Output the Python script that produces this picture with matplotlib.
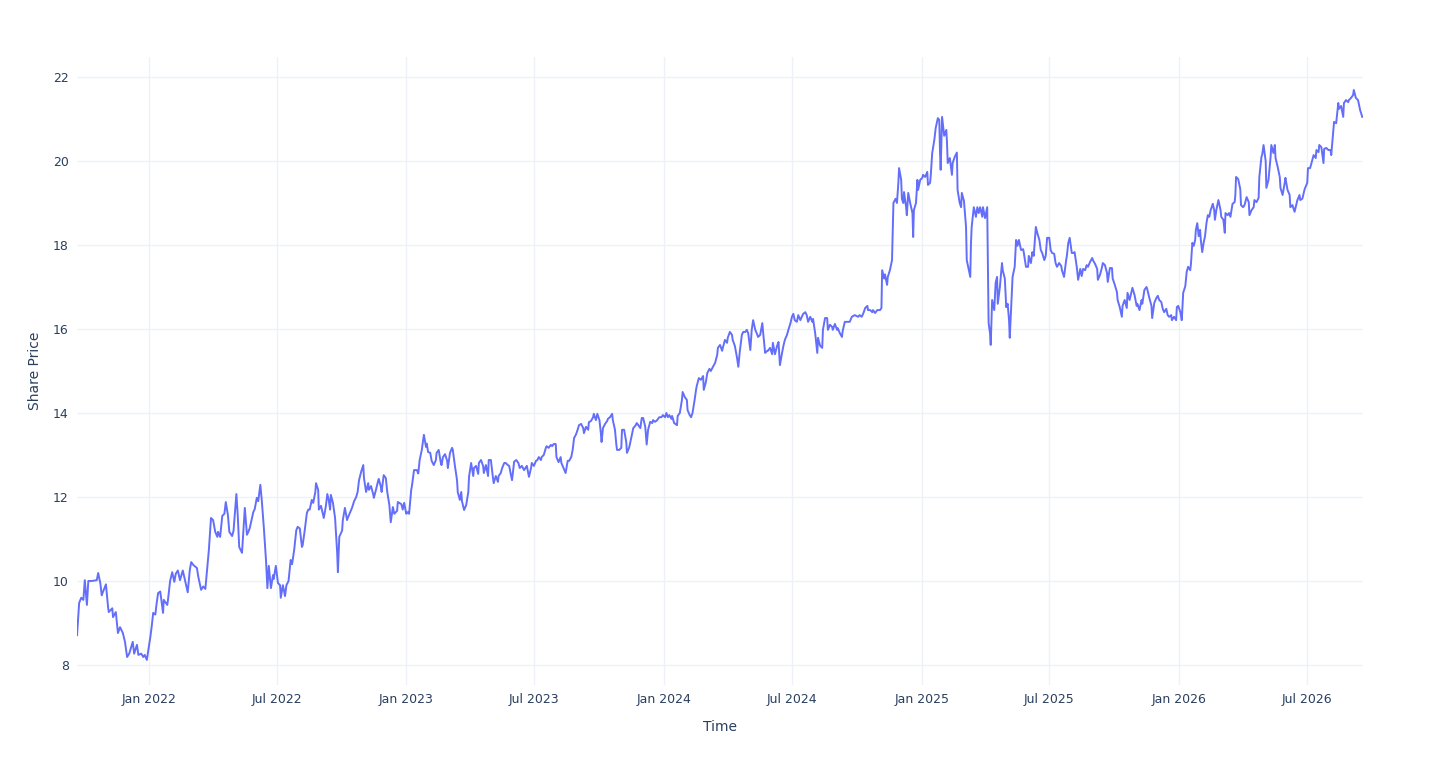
import matplotlib

matplotlib.use("Agg")
import matplotlib.dates as mdates
import pandas as pd
from matplotlib import pyplot as plt

start_date = "2021-09-21"

# days since start_date
days = [
    0, 3, 6, 9, 11, 14, 16, 21, 28, 30, 33, 35, 37, 41, 44, 45, 50, 51, 55, 58,
    61, 65, 68, 71, 74, 79, 81, 85, 87, 91, 94, 96, 99, 104, 106, 108, 111, 113, 115, 118,
    122, 123, 128, 129, 132, 135, 138, 140, 143, 146, 150, 155, 157, 160,
    162, 165, 170, 172, 176, 179, 182, 184, 187, 190, 193, 196, 199, 200, 203, 206,
    209, 211, 214, 216, 220, 222, 226, 228, 230, 234, 236, 238, 241, 243, 245, 250,
    252, 255, 257, 260, 261, 262, 265, 268, 270, 272, 275, 278, 279, 282, 285, 288,
    289, 292, 295, 297, 300, 303, 305, 308, 311, 313,
    316, 319, 320, 323, 326, 328, 330, 333, 335, 338, 339, 342, 343, 346, 348, 350,
    353, 355, 357, 359, 360, 363, 366, 369, 370, 372, 376, 377, 380, 383, 384, 387,
    390, 393, 396, 398, 400, 403, 406, 407, 410, 413, 414, 417, 420, 421, 424, 427,
    428, 431, 432, 435, 438, 440, 443, 445, 448, 450, 454, 455, 460, 462, 464, 467,
    469, 471, 474, 475, 478, 482, 484, 486, 489, 492, 495, 496, 498, 501, 503, 506,
    509, 510, 513, 516, 517, 519, 522, 525, 526, 529, 532, 533, 536, 539, 540, 543,
    545, 546, 549, 552, 555, 556, 559, 562, 563, 566, 569, 570, 573, 576, 577, 580,
    583, 584, 587, 590, 591, 594, 597, 598, 601, 603, 606, 608, 611, 613, 615, 617,
    620, 623, 626, 628,
    631, 634, 638, 641, 644, 645, 648, 651, 653, 655, 658, 659, 662, 665, 666, 669,
    672, 674, 676, 679, 680, 683, 686, 687, 690, 693, 696, 698, 701, 703, 705, 708,
    710, 712, 715, 718, 719, 722, 725, 726, 729, 732, 733, 736, 738, 741, 743, 744,
    746, 749, 752, 753, 756, 759, 760, 763, 765, 766, 769, 772, 773, 776, 779, 780,
    783, 784,
    789, 792, 794, 799, 801, 803, 806, 808, 810, 813, 816, 817, 820, 823, 824, 826,
    829, 831, 834, 836, 838, 840, 843, 844, 847, 851, 852, 855, 858, 859, 862, 865,
    866, 869, 871, 873, 876, 878, 879, 882, 885, 888, 889, 892, 894, 897, 899, 902,
    905, 908, 909, 912, 915, 916, 919, 922, 923, 926, 929, 930, 933, 936, 938,
    940, 943, 945, 948, 950, 952, 955, 957, 959, 962, 965, 966, 969, 972, 973, 976,
    979, 980, 983, 986, 987, 990, 993, 995, 997, 1000, 1002, 1004, 1007, 1009, 1012, 1014,
    1016, 1018, 1021, 1023, 1026, 1028, 1030, 1033, 1035, 1037, 1040, 1043, 1044, 1047, 1050, 1051,
    1054, 1057, 1058, 1061, 1064, 1065, 1068, 1071, 1072, 1075, 1078, 1079, 1082, 1085, 1086, 1089,
    1092, 1096,
    1099, 1103, 1108, 1110, 1113, 1115, 1118, 1121, 1122, 1125, 1128, 1129, 1132, 1135, 1136, 1139,
    1141, 1142, 1145, 1146, 1149, 1150, 1153, 1156, 1157, 1158, 1161, 1163, 1165, 1166, 1169, 1170,
    1172, 1173, 1176, 1177, 1179, 1182, 1185, 1186, 1187, 1190, 1192, 1193, 1196, 1199, 1200, 1203,
    1206, 1207, 1210, 1211, 1213, 1216, 1218, 1221, 1223, 1224, 1225, 1227, 1230, 1233, 1234, 1235,
    1238, 1241, 1242, 1245, 1248, 1249, 1252, 1254,
    1255, 1258, 1261, 1262, 1265, 1267, 1268, 1269, 1271, 1272, 1275, 1277, 1279, 1281, 1284, 1285,
    1288, 1291, 1292, 1293, 1295, 1296, 1298, 1301, 1303, 1305, 1306, 1309, 1312, 1313, 1316, 1318,
    1320, 1322, 1323, 1326, 1327, 1330, 1332, 1334, 1336, 1339, 1342, 1343, 1346, 1349, 1350, 1353,
    1355, 1357, 1360, 1362, 1365, 1367, 1369, 1372, 1374, 1376, 1379, 1381, 1383, 1386, 1388, 1390,
    1393, 1396, 1397, 1400, 1403, 1404,
    1406, 1408, 1411, 1413, 1415, 1418, 1420, 1423, 1425, 1427, 1430, 1432, 1434, 1437, 1440, 1441,
    1444, 1447, 1448, 1451, 1454, 1455, 1458, 1461, 1462, 1465, 1468, 1469, 1472, 1475, 1476, 1479,
    1482, 1483, 1486, 1489, 1490, 1493, 1496, 1497, 1500, 1503, 1504, 1507, 1510, 1511, 1514, 1517,
    1518, 1521, 1524, 1525, 1528, 1531, 1533, 1535, 1538, 1540, 1542, 1545, 1547, 1549, 1552, 1553,
    1556, 1559, 1560, 1562, 1565, 1567, 1569, 1572, 1574, 1576, 1579, 1580, 1582, 1584, 1586, 1587,
    1589, 1591, 1593, 1594, 1596, 1598, 1600, 1602, 1604, 1606, 1608, 1611, 1613, 1614, 1616, 1619,
    1622, 1623, 1626, 1628, 1629, 1632, 1634, 1636, 1639, 1642, 1643, 1644, 1647, 1650, 1651, 1654,
    1656, 1659, 1662, 1663, 1666, 1669, 1670, 1673, 1676, 1677, 1680, 1681, 1683, 1686, 1687, 1690,
    1693, 1694, 1697, 1699, 1700, 1703, 1706, 1707, 1710, 1713, 1714, 1717, 1720, 1721, 1724, 1727,
    1728, 1731, 1734, 1735, 1738, 1741, 1742, 1745, 1746, 1749, 1751, 1754, 1757, 1758, 1761, 1762,
    1765, 1768, 1769, 1772, 1775, 1778, 1779, 1782, 1783, 1786, 1789, 1790, 1793, 1796, 1797, 1800,
    1803, 1804, 1807, 1810, 1811, 1814, 1817, 1820, 1823,
]

price = [
    8.71, 9.48, 9.6, 9.55, 10.02, 9.43, 10.0, 10.0, 10.02, 10.19, 9.95, 9.66, 9.75, 9.92, 9.38, 9.26, 9.35, 9.14, 9.26, 8.76,
    8.9, 8.76, 8.55, 8.19, 8.27, 8.55, 8.27, 8.48, 8.24, 8.27, 8.19, 8.24, 8.12, 8.67, 8.93, 9.24, 9.2, 9.48, 9.71, 9.75,
    9.24, 9.55, 9.43, 9.55, 10.0, 10.21, 9.98, 10.17, 10.25, 10.02, 10.25, 9.87, 9.73, 10.27,
    10.45, 10.38, 10.31, 10.1, 9.79, 9.87, 9.81, 10.19, 10.74, 11.5, 11.45, 11.17, 11.05, 11.17, 11.05, 11.55,
    11.6, 11.88, 11.57, 11.17, 11.07, 11.2, 12.07, 11.55, 10.81, 10.67, 11.2, 11.74, 11.1, 11.17, 11.26, 11.64,
    11.71, 11.98, 11.9, 12.29, 12.1, 11.93, 11.26, 10.5, 9.83, 10.36, 9.83, 10.14, 10.05, 10.36, 9.95, 9.9,
    9.6, 9.9, 9.64, 9.9, 10.0, 10.5, 10.4, 10.74, 11.21, 11.29,
    11.25, 10.81, 10.85, 11.21, 11.62, 11.7, 11.7, 11.93, 11.86, 12.12, 12.33, 12.17, 11.7, 11.79, 11.64, 11.5,
    11.79, 12.07, 11.93, 11.7, 12.05, 11.86, 11.5, 10.67, 10.21, 11.05, 11.2, 11.45, 11.74, 11.45, 11.5, 11.62,
    11.74, 11.9, 12.0, 12.12, 12.4, 12.6, 12.76, 12.45, 12.12, 12.33, 12.17, 12.26, 12.07, 11.98, 12.17, 12.38,
    12.43, 12.24, 12.12, 12.52, 12.45, 12.12, 11.81, 11.4, 11.76, 11.6, 11.67, 11.88, 11.83, 11.7, 11.86, 11.6,
    11.64, 11.6, 12.17, 12.26, 12.64, 12.64, 12.56, 12.88, 13.12, 13.48, 13.19, 13.27, 13.07, 13.05, 12.86, 12.76,
    12.88, 13.05, 13.12, 12.81, 12.76, 12.95, 13.02, 12.86, 12.69, 13.05, 13.17, 13.12, 12.74, 12.4, 12.12, 11.93,
    12.12, 11.9, 11.69, 11.81, 12.12, 12.48, 12.81, 12.5, 12.69, 12.74, 12.55, 12.81, 12.88, 12.74, 12.57, 12.76,
    12.5, 12.88, 12.88, 12.45, 12.33, 12.5, 12.36, 12.5, 12.57, 12.69, 12.81, 12.81, 12.76, 12.74, 12.56, 12.4,
    12.84, 12.88, 12.81, 12.69,
    12.74, 12.64, 12.74, 12.48, 12.69, 12.81, 12.74, 12.86, 12.88, 12.95, 12.88, 12.95, 13.0, 13.17, 13.21, 13.17,
    13.24, 13.21, 13.26, 13.26, 12.95, 12.83, 12.95, 12.81, 12.69, 12.57, 12.86, 12.86, 12.95, 13.12, 13.4, 13.5,
    13.6, 13.71, 13.74, 13.64, 13.52, 13.67, 13.6, 13.78, 13.81, 13.9, 13.98, 13.83, 13.98, 13.83, 13.52, 13.31,
    13.64, 13.74, 13.81, 13.86, 13.9, 13.98, 13.83, 13.6, 13.24, 13.12, 13.12, 13.17, 13.6, 13.6, 13.31, 13.05,
    13.17, 13.24,
    13.64, 13.7, 13.76, 13.64, 13.88, 13.88, 13.67, 13.25, 13.6, 13.79, 13.76, 13.83, 13.79, 13.83, 13.86, 13.9,
    13.9, 13.95, 13.9, 14.0, 13.9, 13.95, 13.86, 13.93, 13.76, 13.71, 13.93, 14.0, 14.31, 14.5, 14.38, 14.31,
    14.07, 13.95, 13.9, 14.0, 14.31, 14.55, 14.64, 14.83, 14.79, 14.88, 14.55, 14.74, 14.95, 15.05, 15.0, 15.1,
    15.19, 15.38, 15.55, 15.62, 15.48, 15.55, 15.74, 15.67, 15.79, 15.93, 15.86, 15.74, 15.6, 15.33, 15.1,
    15.45, 15.86, 15.93, 15.93, 15.98, 15.9, 15.5, 15.98, 16.21, 15.98, 15.86, 15.81, 15.86, 16.14, 15.95, 15.43,
    15.48, 15.48, 15.55, 15.4, 15.67, 15.4, 15.6, 15.69, 15.14, 15.43, 15.6, 15.74, 15.86, 15.98, 16.14, 16.29,
    16.36, 16.21, 16.17, 16.33, 16.21, 16.29, 16.36, 16.4, 16.33, 16.17, 16.29, 16.17, 16.24, 15.9, 15.43, 15.79,
    15.6, 15.55, 15.98, 16.26, 16.26, 15.98, 16.1, 16.05, 15.98, 16.12, 15.98, 16.02, 15.9, 15.81, 15.95, 16.17,
    16.17, 16.17,
    16.29, 16.33, 16.29, 16.33, 16.29, 16.36, 16.5, 16.55, 16.45, 16.45, 16.4, 16.45, 16.38, 16.45, 16.45, 16.45,
    16.5, 17.4, 17.2, 17.3, 17.05, 17.24, 17.4, 17.64, 18.29, 19.0, 19.1, 19.0, 19.48, 19.83, 19.55, 19.1,
    19.0, 19.26, 18.9, 18.71, 19.24, 18.98, 18.76, 18.19, 18.83, 19.0, 19.55, 19.31, 19.55, 19.6, 19.67, 19.62,
    19.74, 19.43, 19.48, 19.67, 20.19, 20.5, 20.79, 21.02, 20.98, 20.26, 19.79, 21.05, 20.6, 20.74, 20.43, 19.95,
    20.07, 19.67, 19.95, 20.1, 20.2, 19.31, 19.0, 18.9,
    19.24, 19.05, 18.43, 17.64, 17.4, 17.24, 18.05, 18.43, 18.76, 18.9, 18.67, 18.9, 18.76, 18.9, 18.67, 18.9,
    18.64, 18.9, 17.6, 16.14, 15.9, 15.62, 16.69, 16.45, 17.1, 17.24, 16.6, 17.0, 17.57, 17.4, 17.2, 16.52,
    16.6, 16.21, 15.79, 16.86, 17.24, 17.48, 18.12, 17.98, 18.12, 17.88, 17.9, 17.81, 17.48, 17.48, 17.74, 17.57,
    17.83, 17.74, 18.43, 18.29, 18.12, 17.88, 17.81, 17.64, 17.74, 18.17, 18.17, 17.88, 17.81, 17.79, 17.57, 17.48,
    17.57, 17.5, 17.4, 17.24, 17.64, 17.74,
    18.05, 18.17, 17.81, 17.81, 17.83, 17.48, 17.17, 17.43, 17.26, 17.43, 17.4, 17.52, 17.48, 17.6, 17.69, 17.64,
    17.55, 17.43, 17.17, 17.29, 17.48, 17.57, 17.52, 17.33, 17.12, 17.45, 17.45, 17.2, 17.05, 16.88, 16.69, 16.52,
    16.29, 16.55, 16.69, 16.5, 16.86, 16.69, 16.9, 16.98, 16.81, 16.55, 16.6, 16.45, 16.69, 16.6, 16.93, 17.0,
    16.95, 16.74, 16.55, 16.26, 16.62, 16.74, 16.79, 16.69, 16.64, 16.48, 16.4, 16.48, 16.33, 16.29, 16.33, 16.21,
    16.29, 16.21, 16.52, 16.55, 16.4, 16.21, 16.86, 17.02, 17.36, 17.48, 17.4, 17.55, 18.05, 17.98, 18.12, 18.36,
    18.52, 18.21, 18.36, 18.12, 17.83, 18.05, 18.21, 18.52, 18.71, 18.67, 18.83, 18.98, 18.83, 18.6, 18.83, 19.07,
    18.83, 18.67, 18.6, 18.29, 18.76, 18.71, 18.76, 18.67, 18.98, 19.02, 19.19, 19.62, 19.57, 19.33, 18.95, 18.9,
    18.95, 19.14, 19.02, 18.71, 18.83, 18.9, 19.07, 19.02, 19.12, 19.62, 20.1, 20.14, 20.38, 20.0, 19.36, 19.55,
    20.1, 20.38, 20.19, 20.38, 20.07, 19.86, 19.62, 19.36, 19.19, 19.48, 19.6, 19.31, 19.19, 18.9, 18.95, 18.79,
    18.86, 19.07, 19.19, 19.07, 19.1, 19.31, 19.36, 19.48, 19.83, 19.83, 19.95, 20.14, 20.07, 20.26, 20.21, 20.38,
    20.33, 19.95, 20.29, 20.31, 20.26, 20.26, 20.14, 20.74, 20.93, 20.9, 21.38, 21.24, 21.31, 21.05, 21.38, 21.45,
    21.4, 21.45, 21.5, 21.57, 21.69, 21.5, 21.45, 21.21, 21.05,
]

y_ticks = [8, 10, 12, 14, 16, 18, 20, 22]

text_color = "#2a3f5f"
grid_color = "#eef1f7"
line_color = "#636efa"


def main() -> None:
    df = pd.DataFrame({"day": days, "price": price})
    df["date"] = pd.Timestamp(start_date) + pd.to_timedelta(df["day"], unit="D")
    df = df.sort_values("date")

    fig = plt.figure(figsize=(14.4, 7.68), dpi=100)
    ax = fig.add_axes([0.0535, 0.1081, 0.893, 0.8177])

    ax.plot(df["date"], df["price"], color=line_color, linewidth=1.4)

    ax.set_xlim(pd.Timestamp(start_date), pd.Timestamp(start_date) + pd.Timedelta(days=1824))
    ax.set_ylim(7.524, 22.476)

    ax.xaxis.set_major_locator(mdates.MonthLocator(bymonth=[1, 7]))
    ax.xaxis.set_major_formatter(mdates.DateFormatter("%b %Y"))
    ax.set_yticks(y_ticks)

    ax.grid(True, color=grid_color, linewidth=1)
    ax.set_axisbelow(True)
    for spine in ax.spines.values():
        spine.set_visible(False)
    ax.tick_params(axis="both", length=0, labelsize=9, labelcolor=text_color)
    ax.tick_params(axis="x", pad=6)
    ax.tick_params(axis="y", pad=6)

    ax.set_xlabel("Time", fontsize=10, color=text_color, labelpad=10)
    ax.set_ylabel("Share Price", fontsize=10, color=text_color, labelpad=8)

    fig.savefig("out.png", dpi=100)


if __name__ == "__main__":
    main()
